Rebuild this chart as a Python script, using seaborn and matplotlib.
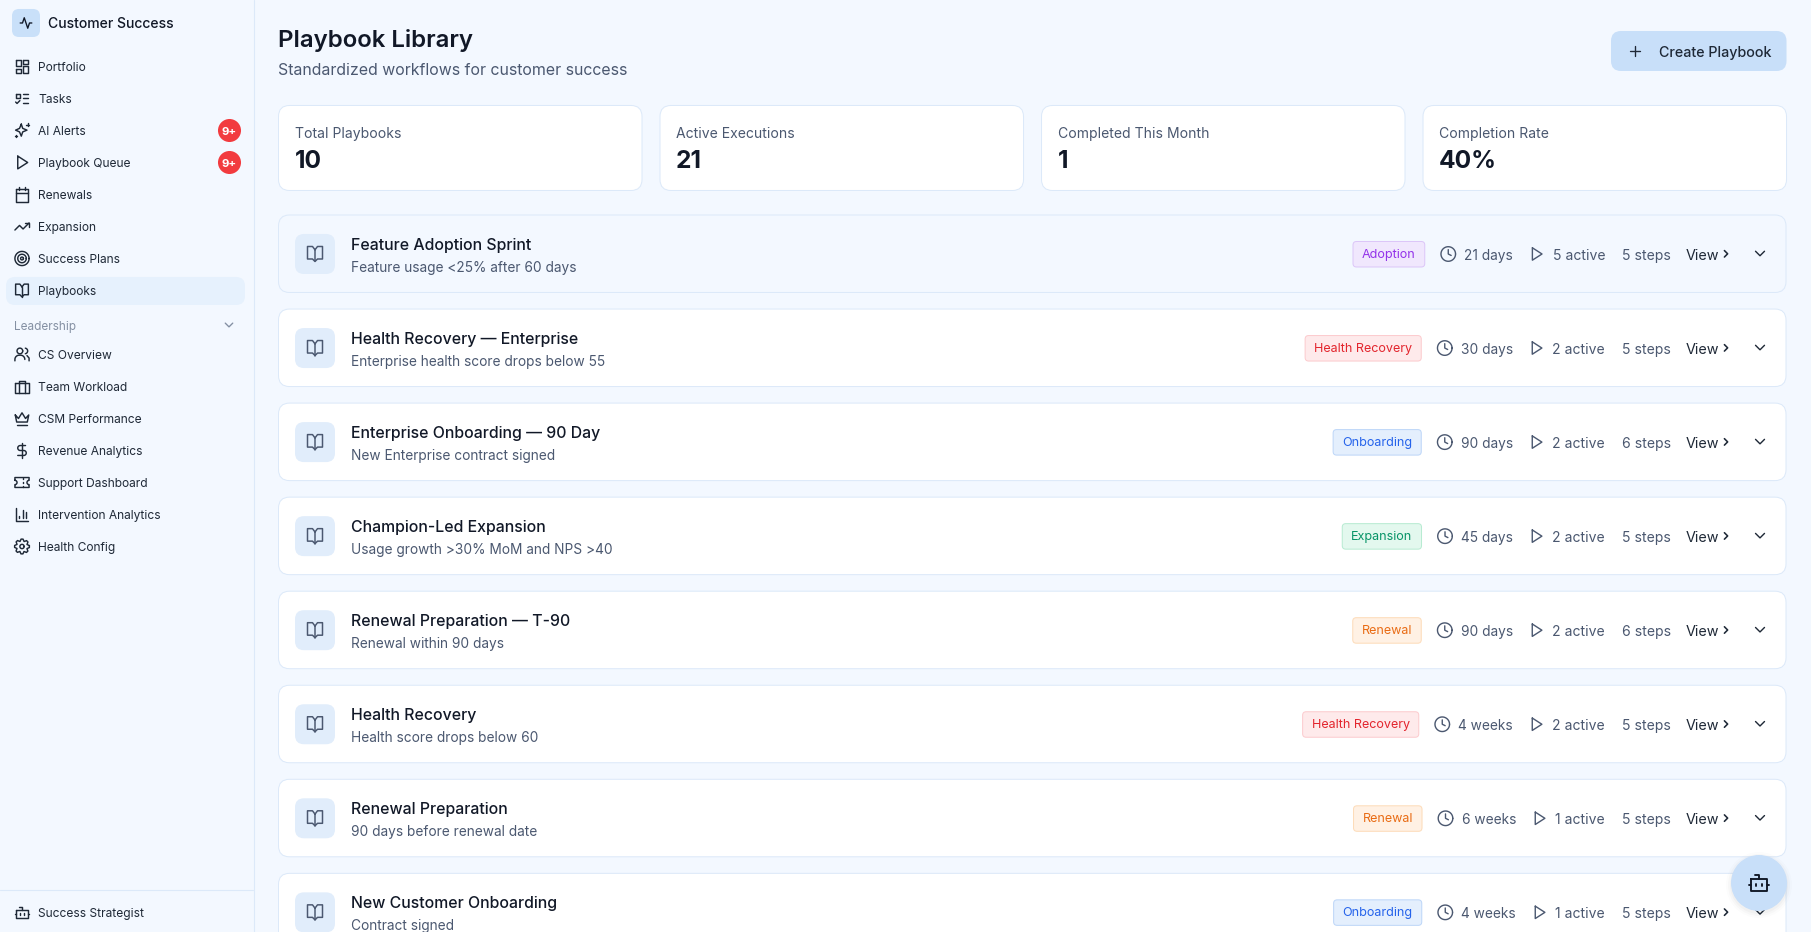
# playbook_library.py

import numpy as np
import matplotlib
matplotlib.use("Agg")
import matplotlib.pyplot as plt
import seaborn as sns
from matplotlib.patches import FancyBboxPatch, Circle

# =========================== DATA ===========================
nav_items = ["Portfolio", "Tasks", "AI Alerts", "Playbook Queue", "Renewals",
             "Expansion", "Success Plans", "Playbooks"]
nav_icons = ["dashboard", "todo", "sparkles", "play", "calendar", "trend", "target", "book"]
leadership_items = ["CS Overview", "Team Workload", "CSM Performance", "Revenue Analytics",
                    "Support Dashboard", "Intervention Analytics", "Health Config"]
leadership_icons = ["users", "briefcase", "crown", "dollar", "ticket", "bars", "gear"]
badge_items = ["AI Alerts", "Playbook Queue"]

stat_labels = ["Total Playbooks", "Active Executions", "Completed This Month", "Completion Rate"]
stat_values = ["10", "21", "1", "40%"]

row_titles = ["Feature Adoption Sprint", "Health Recovery — Enterprise", "Enterprise Onboarding — 90 Day",
              "Champion-Led Expansion", "Renewal Preparation — T-90", "Health Recovery",
              "Renewal Preparation", "New Customer Onboarding"]
row_triggers = ["Feature usage <25% after 60 days", "Enterprise health score drops below 55",
                "New Enterprise contract signed", "Usage growth >30% MoM and NPS >40",
                "Renewal within 90 days", "Health score drops below 60",
                "90 days before renewal date", "Contract signed"]
row_tags = ["Adoption", "Health Recovery", "Onboarding", "Expansion", "Renewal",
            "Health Recovery", "Renewal", "Onboarding"]
row_durations = ["21 days", "30 days", "90 days", "45 days", "90 days", "4 weeks", "6 weeks", "4 weeks"]
row_active = [5, 2, 2, 2, 2, 2, 1, 1]
row_steps = [5, 5, 6, 5, 6, 5, 5, 5]

# text, fill, border
tag_colors = {
    "Adoption": ("#9333ea", "#f0e7fd", "#dcc6f8"),
    "Health Recovery": ("#e3262e", "#feeaeb", "#fccbce"),
    "Onboarding": ("#2563eb", "#e4effd", "#bdd6f8"),
    "Expansion": ("#079467", "#e3f8ee", "#b8ebd2"),
    "Renewal": ("#e96c15", "#fff1e4", "#fddcb9"),
}

BG = "#f3f8ff"
BORDER = "#dce9f9"
DARK = "#111827"
TEXT = "#1f2937"
GRAY = "#4b5870"
FONT = "Inter"

# =========================== FIGURE ===========================
sns.set_theme(style="white")
plt.rcParams["font.family"] = [FONT, "DejaVu Sans"]

W, H = 1811, 932
fig = plt.figure(figsize=(W / 100 + 1e-4, H / 100 + 1e-4), dpi=100, facecolor=BG)
ax = fig.add_axes([0, 0, 1, 1])
ax.set_xlim(0, W)
ax.set_ylim(H, 0)
ax.axis("off")
renderer = fig.canvas.get_renderer()


def label(x, y, s, px, color=TEXT, weight="normal", ha="left", z=5):
    return ax.text(x, y, s, fontsize=px * 0.72, color=color, fontweight=weight,
                   ha=ha, va="baseline", zorder=z)


def text_width(s, px, weight="normal"):
    t = label(0, 0, s, px, weight=weight)
    w = t.get_window_extent(renderer).width
    t.remove()
    return w


def box(x0, y0, x1, y1, r, fill, edge="none", lw=1.0, z=1):
    ax.add_patch(FancyBboxPatch((x0, y0), x1 - x0, y1 - y0, boxstyle=f"round,pad=0,rounding_size={r}",
                                facecolor=fill, edgecolor=edge, linewidth=lw * 0.72, zorder=z))


# =========================== ICONS (24 unit grid) ===========================
def arc(cx, cy, r, a0=0, a1=360, n=40):
    t = np.deg2rad(np.linspace(a0, a1, n))
    return list(zip(cx + r * np.cos(t), cy + r * np.sin(t)))


def rect(x, y, w, h):
    return [(x, y), (x + w, y), (x + w, y + h), (x, y + h), (x, y)]


gear = [(12 + (10.5 if i % 3 < 2 else 7.6) * np.cos(np.deg2rad(i * 15 - 7)),
         12 + (10.5 if i % 3 < 2 else 7.6) * np.sin(np.deg2rad(i * 15 - 7))) for i in range(25)]

ICONS = {
    "activity": [[(22, 12), (18, 12), (15, 21), (9, 3), (6, 12), (2, 12)]],
    "dashboard": [rect(3, 3, 7, 9), rect(14, 3, 7, 5), rect(14, 12, 7, 9), rect(3, 16, 7, 5)],
    "todo": [rect(3, 5, 6, 6), [(3, 17), (5, 19), (9, 15)], [(13, 6), (21, 6)], [(13, 12), (21, 12)], [(13, 18), (21, 18)]],
    "sparkles": [[(11, 3), (13, 9), (19, 11.5), (13, 14), (11, 20), (8.5, 14), (3, 11.5), (8.5, 9), (11, 3)],
                 [(20, 2), (20, 6)], [(18, 4), (22, 4)], [(4, 18), (4, 21)], [(2.5, 19.5), (5.5, 19.5)]],
    "play": [[(6, 3), (20, 12), (6, 21), (6, 3)]],
    "calendar": [rect(3, 4, 18, 18), [(16, 2), (16, 6)], [(8, 2), (8, 6)], [(3, 10), (21, 10)]],
    "trend": [[(22, 7), (13.5, 15.5), (8.5, 10.5), (2, 17)], [(16, 7), (22, 7), (22, 13)]],
    "target": [arc(12, 12, 10), arc(12, 12, 6), arc(12, 12, 2)],
    "book": [[(12, 7), (12, 21)], [(12, 7), (9, 3), (3, 3), (3, 18), (9, 18), (12, 21), (15, 18), (21, 18), (21, 3), (15, 3), (12, 7)]],
    "users": [arc(9, 7, 4), [(2, 21), (2, 19)] + arc(8, 19, 6, 180, 270, 12) + [(10, 13)] + arc(10, 19, 6, 270, 360, 12),
              arc(16, 7, 4, -80, 80, 12), [(19, 13.5), (22, 17), (22, 21)]],
    "briefcase": [rect(2, 7, 20, 14), [(8, 21), (8, 4), (16, 4), (16, 21)]],
    "crown": [[(2.5, 7), (7, 12), (12, 4), (17, 12), (21.5, 7), (19.5, 17), (4.5, 17), (2.5, 7)], [(5, 21), (19, 21)]],
    "dollar": [[(12, 2), (12, 22)], [(17, 5), (9.5, 5)] + arc(9.5, 8.5, 3.5, 270, 90, 16) + [(14.5, 12)] + arc(14.5, 15.5, 3.5, -90, 90, 16) + [(6, 19)]],
    "ticket": [[(2, 9), (2, 5), (22, 5), (22, 9)] + arc(22, 12, 3, 270, 90, 12) + [(22, 15), (22, 19), (2, 19), (2, 15)] + arc(2, 12, 3, 90, -90, 12),
               [(13, 5), (13, 7)], [(13, 17), (13, 19)], [(13, 11), (13, 13)]],
    "bars": [[(3, 3), (3, 21), (21, 21)], [(8, 17), (8, 14)], [(13, 17), (13, 5)], [(18, 17), (18, 9)]],
    "gear": [gear, arc(12, 12, 3)],
    "bot": [rect(4, 8, 16, 12), [(12, 8), (12, 4), (8, 4)], [(2, 14), (4, 14)], [(20, 14), (22, 14)], [(9, 13), (9, 15)], [(15, 13), (15, 15)]],
    "clock": [arc(12, 12, 10), [(12, 6), (12, 12), (16, 14)]],
    "plus": [[(5, 12), (19, 12)], [(12, 5), (12, 19)]],
    "down": [[(6, 9), (12, 15), (18, 9)]],
    "right": [[(9, 6), (15, 12), (9, 18)]],
}


def icon(name, cx, cy, size=16, color=TEXT, lw=1.35, z=4):
    k = size / 24
    for path in ICONS[name]:
        p = np.array(path, dtype=float)
        ax.plot(cx + (p[:, 0] - 12) * k, cy + (p[:, 1] - 12) * k, color=color, lw=lw * 0.72,
                solid_capstyle="round", solid_joinstyle="round", zorder=z)


# =========================== SIDEBAR ===========================
ax.plot([253.5, 253.5], [0, H], color=BORDER, lw=0.8, zorder=2)
ax.plot([0, 253], [890, 890], color=BORDER, lw=0.8, zorder=2)

box(12, 9, 40, 37, 7, "#c9e0f9")
icon("activity", 26, 23, 14, DARK)
label(48, 28, "Customer Success", 14, DARK, "medium")

nav_pitch, nav_top = 32, 66.5
box(6, 277, 245, 305, 9, "#e6f1fd")
for i, (name, ic) in enumerate(zip(nav_items, nav_icons)):
    y = nav_top + i * nav_pitch
    icon(ic, 22, y, 17, lw=1.45)
    label(38, y + 4.7, name, 12)

badge_y = [nav_top + nav_items.index(n) * nav_pitch for n in badge_items]
sns.scatterplot(x=[229.2] * len(badge_y), y=badge_y, s=275, color="#f23b3f", linewidth=0,
                ax=ax, legend=False, zorder=3)
for y in badge_y:
    label(229.2, y + 4, "9+", 11.5, "white", "bold", ha="center")

label(14, 329.5, "Leadership", 11.8, "#8490a3")
icon("down", 229, 325, 15, "#8490a3")
for i, (name, ic) in enumerate(zip(leadership_items, leadership_icons)):
    y = 354.5 + i * nav_pitch
    icon(ic, 22, y, 17, lw=1.45)
    label(38, y + 4.7, name, 12)

icon("bot", 22, 912.5, 17, lw=1.45)
label(38, 917, "Success Strategist", 12)

# =========================== HEADER ===========================
label(278, 46.7, "Playbook Library", 24, DARK, "semibold")
label(278, 75.3, "Standardized workflows for customer success", 15.9, GRAY)

box(1611, 31, 1786.5, 71, 10, "#c8dff9")
icon("plus", 1635, 51, 17, TEXT)
label(1659, 57.3, "Create Playbook", 14.3, TEXT, "medium")

# =========================== STAT CARDS ===========================
card_x = [278, 659.5, 1041, 1422.5]
for x, name, val in zip(card_x, stat_labels, stat_values):
    box(x + 0.5, 105.5, x + 364, 190.5, 11, "white", BORDER)
    label(x + 16.5, 138, name, 14, GRAY)
    label(x + 16.5, 167.7, val, 24.5, DARK, "bold")

# =========================== PLAYBOOK ROWS ===========================
row_top, row_pitch, row_h = 215, 94.05, 77.5
for i in range(len(row_titles)):
    y0 = row_top + i * row_pitch
    cy = y0 + 39
    box(278.5, y0, 1786, y0 + row_h, 11, BG if i == 0 else "white", BORDER)

    box(295, cy - 20, 335, cy + 20, 9, "#e1edfb", z=2)
    icon("book", 315, cy, 20, "#4b5870", 1.5)
    label(351, y0 + 34.6, row_titles[i], 15.85, DARK, "medium")
    label(351, y0 + 56.8, row_triggers[i], 13.7, GRAY)

    # right side is laid out from the fixed columns back to the tag
    label(1622, y0 + 44.7, f"{row_steps[i]} steps", 14, GRAY)
    label(1686, y0 + 44.7, "View", 14.4, TEXT)
    icon("right", 1726, cy - 0.2, 13, TEXT, 1.6)
    icon("down", 1760, cy - 0.5, 18, TEXT, 1.4)

    active = f"{row_active[i]} active"
    active_x = 1605 - text_width(active, 14)
    label(active_x, y0 + 44.7, active, 14, GRAY)
    play_x = active_x - 16
    icon("play", play_x, cy, 16.5, GRAY, 1.4)

    dur_right = play_x - 23.5
    dur_w = text_width(row_durations[i], 13.7)
    label(dur_right - dur_w, y0 + 44.7, row_durations[i], 13.7, GRAY)
    clock_x = dur_right - dur_w - 16
    icon("clock", clock_x, cy, 17.5, GRAY, 1.4)

    tag = row_tags[i]
    fg, fill, edge = tag_colors[tag]
    tag_right = clock_x - 23.5
    tag_w = text_width(tag, 12.6) + 18
    box(tag_right - tag_w, cy - 12.5, tag_right, cy + 13, 3.5, fill, edge, z=2)
    label(tag_right - tag_w / 2, y0 + 43, tag, 12.6, fg, ha="center")

# =========================== ASSISTANT BUTTON ===========================
for r, a in zip([33, 31, 29], [0.012, 0.018, 0.025]):
    ax.add_patch(Circle((1759, 885), r, facecolor="#000000", edgecolor="none", alpha=a, zorder=6))
ax.add_patch(Circle((1759, 883), 28, facecolor="#c8dff9", edgecolor="none", zorder=7))
icon("bot", 1759, 883, 24, DARK, 1.9, z=8)

fig.savefig("out.png", dpi=100, facecolor=BG)
plt.close(fig)
